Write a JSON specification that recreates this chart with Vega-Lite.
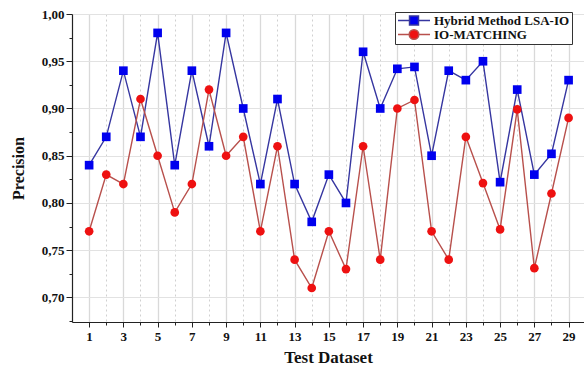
{
  "$schema": "https://vega.github.io/schema/vega-lite/v6.json",
  "width": 512,
  "height": 308,
  "autosize": "none",
  "padding": {"left": 72, "top": 14, "right": 0, "bottom": 51},
  "config": {"font": "Liberation Serif", "view": {"stroke": null}},
  "data": {"values": [
    {"x":1,"v":0.84,"s":"Hybrid Method LSA-IO"},{"x":2,"v":0.87,"s":"Hybrid Method LSA-IO"},{"x":3,"v":0.94,"s":"Hybrid Method LSA-IO"},{"x":4,"v":0.87,"s":"Hybrid Method LSA-IO"},{"x":5,"v":0.98,"s":"Hybrid Method LSA-IO"},{"x":6,"v":0.84,"s":"Hybrid Method LSA-IO"},{"x":7,"v":0.94,"s":"Hybrid Method LSA-IO"},{"x":8,"v":0.86,"s":"Hybrid Method LSA-IO"},{"x":9,"v":0.98,"s":"Hybrid Method LSA-IO"},{"x":10,"v":0.90,"s":"Hybrid Method LSA-IO"},
    {"x":11,"v":0.82,"s":"Hybrid Method LSA-IO"},{"x":12,"v":0.91,"s":"Hybrid Method LSA-IO"},{"x":13,"v":0.82,"s":"Hybrid Method LSA-IO"},{"x":14,"v":0.78,"s":"Hybrid Method LSA-IO"},{"x":15,"v":0.83,"s":"Hybrid Method LSA-IO"},{"x":16,"v":0.80,"s":"Hybrid Method LSA-IO"},{"x":17,"v":0.96,"s":"Hybrid Method LSA-IO"},{"x":18,"v":0.90,"s":"Hybrid Method LSA-IO"},{"x":19,"v":0.942,"s":"Hybrid Method LSA-IO"},{"x":20,"v":0.944,"s":"Hybrid Method LSA-IO"},
    {"x":21,"v":0.85,"s":"Hybrid Method LSA-IO"},{"x":22,"v":0.94,"s":"Hybrid Method LSA-IO"},{"x":23,"v":0.93,"s":"Hybrid Method LSA-IO"},{"x":24,"v":0.95,"s":"Hybrid Method LSA-IO"},{"x":25,"v":0.822,"s":"Hybrid Method LSA-IO"},{"x":26,"v":0.92,"s":"Hybrid Method LSA-IO"},{"x":27,"v":0.83,"s":"Hybrid Method LSA-IO"},{"x":28,"v":0.852,"s":"Hybrid Method LSA-IO"},{"x":29,"v":0.93,"s":"Hybrid Method LSA-IO"},
    {"x":1,"v":0.77,"s":"IO-MATCHING"},{"x":2,"v":0.83,"s":"IO-MATCHING"},{"x":3,"v":0.82,"s":"IO-MATCHING"},{"x":4,"v":0.91,"s":"IO-MATCHING"},{"x":5,"v":0.85,"s":"IO-MATCHING"},{"x":6,"v":0.79,"s":"IO-MATCHING"},{"x":7,"v":0.82,"s":"IO-MATCHING"},{"x":8,"v":0.92,"s":"IO-MATCHING"},{"x":9,"v":0.85,"s":"IO-MATCHING"},{"x":10,"v":0.87,"s":"IO-MATCHING"},
    {"x":11,"v":0.77,"s":"IO-MATCHING"},{"x":12,"v":0.86,"s":"IO-MATCHING"},{"x":13,"v":0.74,"s":"IO-MATCHING"},{"x":14,"v":0.71,"s":"IO-MATCHING"},{"x":15,"v":0.77,"s":"IO-MATCHING"},{"x":16,"v":0.73,"s":"IO-MATCHING"},{"x":17,"v":0.86,"s":"IO-MATCHING"},{"x":18,"v":0.74,"s":"IO-MATCHING"},{"x":19,"v":0.90,"s":"IO-MATCHING"},{"x":20,"v":0.909,"s":"IO-MATCHING"},
    {"x":21,"v":0.77,"s":"IO-MATCHING"},{"x":22,"v":0.74,"s":"IO-MATCHING"},{"x":23,"v":0.87,"s":"IO-MATCHING"},{"x":24,"v":0.821,"s":"IO-MATCHING"},{"x":25,"v":0.772,"s":"IO-MATCHING"},{"x":26,"v":0.899,"s":"IO-MATCHING"},{"x":27,"v":0.731,"s":"IO-MATCHING"},{"x":28,"v":0.81,"s":"IO-MATCHING"},{"x":29,"v":0.89,"s":"IO-MATCHING"}
  ]},
  "encoding": {
    "x": {
      "field": "x", "type": "quantitative",
      "scale": {"domain": [0, 29.9], "nice": false, "zero": false},
      "axis": {
        "values": [1,2,3,4,5,6,7,8,9,10,11,12,13,14,15,16,17,18,19,20,21,22,23,24,25,26,27,28,29],
        "labelExpr": "datum.value % 2 === 1 ? datum.label : ''",
        "labelFont": "Liberation Serif", "labelFontWeight": "bold", "labelFontSize": 13, "labelColor": "#111",
        "labelPadding": 3, "labelFlush": false, "labelOverlap": false,
        "domainColor": "#222", "domainWidth": 1.2,
        "tickColor": "#222",
        "tickSize": {"condition": {"test": "datum.value % 2 === 1", "value": 5}, "value": 3},
        "grid": true,
        "gridColor": {"condition": {"test": "datum.value % 2 === 1", "value": "#d9d9d9"}, "value": "#c4c4c4"},
        "gridDash": {"condition": {"test": "datum.value % 2 === 1", "value": []}, "value": [2, 3]},
        "gridWidth": {"condition": {"test": "datum.value % 2 === 1", "value": 1.3}, "value": 0.8},
        "title": "Test Dataset", "titleFont": "Liberation Serif", "titleFontWeight": "bold", "titleFontSize": 17, "titleColor": "#111", "titlePadding": 6
      }
    },
    "y": {
      "field": "v", "type": "quantitative",
      "scale": {"domain": [0.674, 1.0], "nice": false, "zero": false},
      "axis": {
        "values": [0.675,0.7,0.725,0.75,0.775,0.8,0.825,0.85,0.875,0.9,0.925,0.95,0.975,1.0],
        "labelExpr": "abs(datum.value*20 - round(datum.value*20)) < 0.001 ? replace(format(datum.value, '.2f'), '.', ',') : ''",
        "labelFont": "Liberation Serif", "labelFontWeight": "bold", "labelFontSize": 13, "labelColor": "#111",
        "labelPadding": 2,
        "domainColor": "#222", "domainWidth": 1.2,
        "tickColor": "#222",
        "tickSize": {"condition": {"test": "abs(datum.value*20 - round(datum.value*20)) < 0.001", "value": 6}, "value": 3},
        "grid": true,
        "gridColor": "#e2e2e2",
        "gridOpacity": {"condition": {"test": "abs(datum.value*20 - round(datum.value*20)) < 0.001", "value": 1}, "value": 0},
        "title": "Precision", "titleFont": "Liberation Serif", "titleFontWeight": "bold", "titleFontSize": 16, "titleColor": "#111", "titlePadding": 15
      }
    }
  },
  "layer": [
    {
      "mark": {"type": "line", "strokeWidth": 1.4},
      "encoding": {
        "stroke": {
          "field": "s", "type": "nominal",
          "scale": {"domain": ["Hybrid Method LSA-IO", "IO-MATCHING"], "range": ["#3636a0", "#b8504c"]},
          "legend": {
            "title": null, "orient": "none", "legendX": 323, "legendY": -2,
            "strokeColor": "#333", "fillColor": "#ffffff", "padding": 2,
            "labelFont": "Liberation Serif", "labelFontWeight": "bold", "labelFontSize": 13, "labelColor": "#111",
            "symbolType": "M-1,0H-0.28V-0.28H0.28V0.28H-0.28V0M0.28,0H1",
            "symbolSize": 1024, "symbolStrokeWidth": 1.5, "rowPadding": 0, "clipHeight": 13,
            "labelOffset": 3,
            "encode": {
              "symbols": {"update": {
                "shape": {"signal": "datum.value === 'IO-MATCHING' ? 'M-1,0H-0.3M0.3,0H1M0.3,0A0.3,0.3 0 1,1 -0.3,0A0.3,0.3 0 1,1 0.3,0Z' : 'M-1,0H-0.28V-0.28H0.28V0.28H-0.28V0M0.28,0H1'"},
                "fill": {"signal": "datum.value === 'IO-MATCHING' ? '#ee1111' : '#0000ee'"},
                "fillOpacity": {"value": 1}
              }}
            }
          }
        }
      }
    },
    {
      "transform": [{"filter": "datum.s === 'Hybrid Method LSA-IO'"}],
      "mark": {"type": "point", "filled": true, "opacity": 1, "size": 75, "shape": "square", "color": "#0000ee"}
    },
    {
      "transform": [{"filter": "datum.s === 'IO-MATCHING'"}],
      "mark": {"type": "point", "filled": true, "opacity": 1, "size": 75, "shape": "circle", "color": "#ee1111"}
    }
  ]
}
